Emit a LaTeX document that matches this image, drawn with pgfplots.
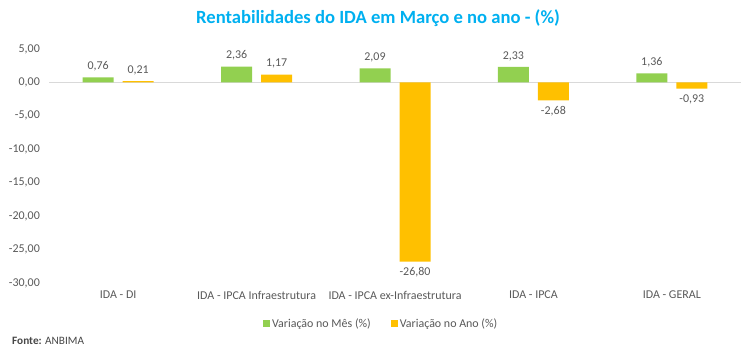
\documentclass[border=0pt]{standalone}
\usepackage{pgfplots}
\pgfplotsset{compat=1.18}
\usepackage{fontspec}
\setmainfont{Carlito}
\definecolor{gr}{HTML}{92D050}
\definecolor{orr}{HTML}{FFC000}
\definecolor{tx}{HTML}{595959}
\definecolor{ti}{HTML}{00B0F0}
\definecolor{zl}{HTML}{D9D9D9}
\begin{document}
\begin{tikzpicture}[x=1bp,y=1bp]
\path[use as bounding box] (0,0) rectangle (755,355);
\begin{axis}[at={(49bp,72bp)}, anchor=south west, scale only axis,
  width=692bp, height=234bp,
  xmin=-0.5, xmax=4.5, ymin=-30, ymax=5,
  ybar=9bp, bar width=31bp,
  xtick={0,1,2,3,4},
  xticklabels={IDA - DI, IDA - IPCA Infraestrutura, IDA - IPCA ex-Infraestrutura, IDA - IPCA, IDA - GERAL},
  ytick={-30,-25,...,5},
  axis line style={draw=none}, major tick length=0pt,
  tick label style={font=\fontsize{12}{14}\selectfont, text=tx, inner sep=0pt},
  yticklabel style={xshift=-9bp, /pgf/number format/.cd, fixed, fixed zerofill, precision=2, use comma, assume math mode=true},
  xticklabel style={yshift=-8bp},
  nodes near coords,
  nodes near coords style={font=\fontsize{12}{14}\selectfont, text=tx, inner sep=6bp, /pgf/number format/.cd, fixed, fixed zerofill, precision=2, use comma, assume math mode=true},
  legend style={at={(0.48,-0.175)}, anchor=center, draw=none, font=\fontsize{12}{14}\selectfont, text=tx, legend columns=2, /tikz/every even column/.append style={column sep=18bp}},
  legend image code/.code={\fill[#1] (0bp,-3.5bp) rectangle (7bp,3.5bp);},
  clip=false,
]
\draw[zl, line width=0.8bp] (axis cs:-0.5,0) -- (axis cs:4.5,0);
\addplot[fill=gr, draw=none] coordinates {(0,0.76) (1,2.36) (2,2.09) (3,2.33) (4,1.36)};
\addplot[fill=orr, draw=none] coordinates {(0,0.21) (1,1.17) (2,-26.80) (3,-2.68) (4,-0.93)};
\legend{Variação no Mês (\%), Variação no Ano (\%)}
\end{axis}
\node[font=\bfseries\fontsize{18.7}{21}\selectfont, text=ti] at (378,337) {Rentabilidades do IDA em Março e no ano - (\%)};
\node[anchor=west, font=\fontsize{11.3}{13}\selectfont, text=tx!80!black, inner sep=0pt] at (12,14) {\textbf{Fonte:} ANBIMA};
\end{tikzpicture}
\end{document}
